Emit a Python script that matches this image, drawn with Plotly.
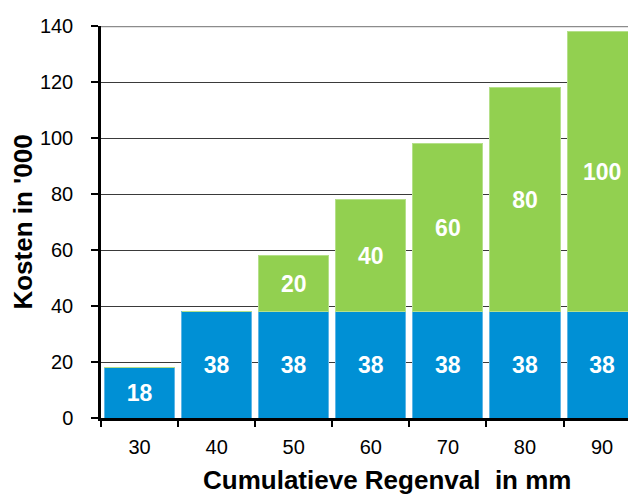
import plotly.graph_objects as go

categories = ["30", "40", "50", "60", "70", "80", "90"]
basis = [18, 38, 38, 38, 38, 38, 38]
extra = [0, 0, 20, 40, 60, 80, 100]
y_ticks = [0, 20, 40, 60, 80, 100, 120, 140]
x_title = "Cumulatieve Regenval  in mm"
y_title = "Kosten in '000"

BLUE = "#0090D5"
GREEN = "#92D050"
FONT = "Liberation Sans, Arial, Helvetica, sans-serif"

fig = go.Figure()
fig.add_trace(go.Bar(
    x=categories, y=basis, marker=dict(color=BLUE, line=dict(color="#5fb6e6", width=1)),
    text=[str(v) for v in basis], textposition="inside", insidetextanchor="middle",
    textfont=dict(color="white", size=23, family=FONT, weight="bold"),
    hoverinfo="skip", cliponaxis=True,
))
fig.add_trace(go.Bar(
    x=categories, y=extra, marker=dict(color=GREEN, line=dict(color="#b5e08a", width=1)),
    text=[str(v) if v else "" for v in extra], textposition="inside", insidetextanchor="middle",
    textfont=dict(color="white", size=23, family=FONT, weight="bold"),
    hoverinfo="skip", cliponaxis=True,
))

fig.update_layout(
    barmode="stack",
    bargap=0.09,
    width=628, height=489,
    margin=dict(l=93, r=0, t=18, b=79),
    paper_bgcolor="white", plot_bgcolor="white",
    showlegend=False,
    font=dict(family=FONT, color="black", size=20),
    uniformtext=dict(minsize=10, mode="show"),
    xaxis=dict(
        type="category", range=[-0.5, 6.44], tickson="boundaries", automargin=False,
        ticks="outside", ticklen=6, tickwidth=2, tickcolor="black",
        showline=True, linecolor="black", linewidth=2.5,
        showgrid=False, tickfont=dict(size=20), ticklabelstandoff=9,
    ),
    yaxis=dict(
        range=[0, 140], tickvals=y_ticks, ticks="outside", ticklen=7, tickwidth=2, automargin=False,
        tickcolor="black", showline=True, linecolor="black", linewidth=2.5,
        showgrid=True, gridcolor="#3a3a3a", gridwidth=1.2, zeroline=False,
        tickfont=dict(size=20), ticklabelstandoff=14,
        title=dict(text="<b>" + y_title + "</b>", font=dict(size=26), standoff=14),
    ),
)
fig.add_annotation(
    text="<b>" + x_title + "</b>", xref="paper", yref="paper", x=0.535, y=0,
    xanchor="center", yanchor="middle", yshift=-62, showarrow=False,
    font=dict(size=26, family=FONT, color="black"),
)
fig.add_hline(y=y_ticks[-1], line=dict(color="#8c8c8c", width=2.5), layer="above")

fig.write_html("out.html")
